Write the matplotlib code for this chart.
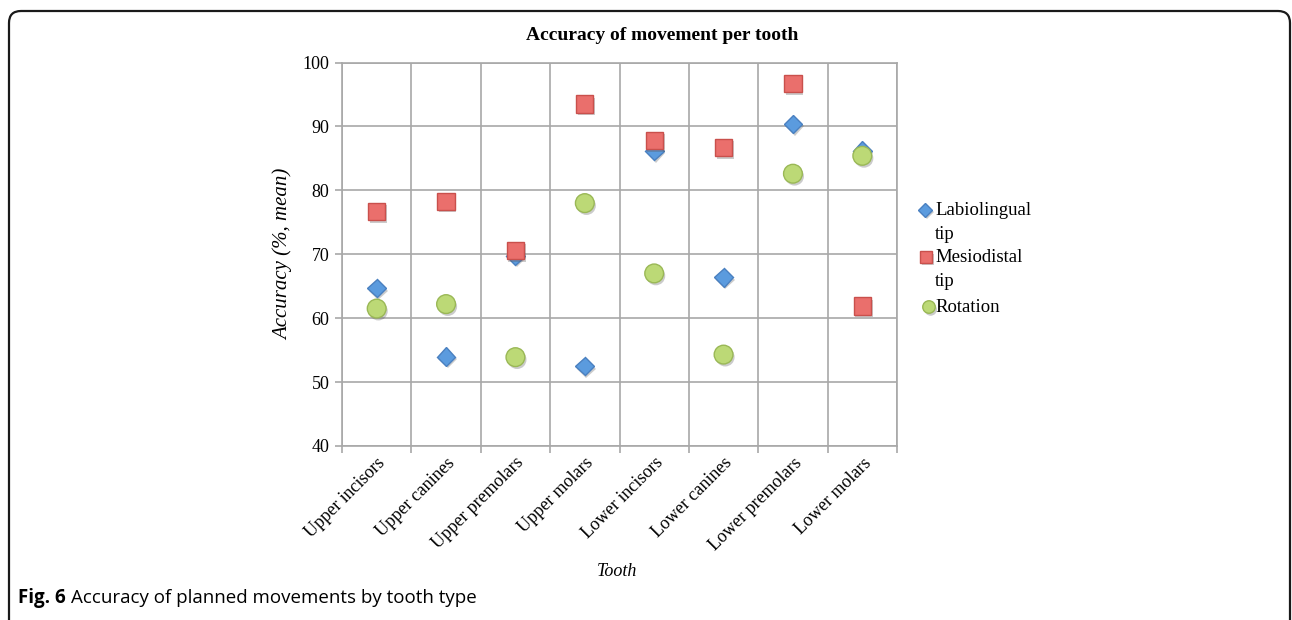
import matplotlib
matplotlib.use("Agg")
import matplotlib.pyplot as plt
import matplotlib.patheffects as pe
from matplotlib.lines import Line2D
from matplotlib.patches import FancyBboxPatch
import numpy as np

teeth = ["Upper incisors", "Upper canines", "Upper premolars", "Upper molars",
         "Lower incisors", "Lower canines", "Lower premolars", "Lower molars"]
labiolingual = [64.7, 54.0, 69.8, 52.5, 86.2, 66.4, 90.4, 86.2]
mesiodistal = [76.7, 78.3, 70.6, 93.5, 87.8, 86.7, 96.7, 61.9]
rotation = [61.5, 62.2, 53.9, 78.0, 67.0, 54.3, 82.6, 85.4]
y_ticks = [40, 50, 60, 70, 80, 90, 100]

SERIF = ["Liberation Serif", "DejaVu Serif"]
SANS = ["Open Sans", "DejaVu Sans"]
W, H = 1292, 620
DPI = 100

fig = plt.figure(figsize=(W / DPI, H / DPI), dpi=DPI)
fig.patch.set_facecolor("white")

# plot area in pixels
L, R, T, B = 342, 897, 62.5, 446
ax = fig.add_axes([L / W, 1 - B / H, (R - L) / W, (B - T) / H])

grid_c = "#a8a8a8"
x = np.arange(len(teeth))
ax.set_xlim(-0.5, len(teeth) - 0.5)
ax.set_ylim(min(y_ticks), max(y_ticks))
ax.set_yticks(y_ticks)
ax.set_xticks(x)
ax.set_xticks(np.arange(len(teeth) + 1) - 0.5, minor=True)
ax.set_xticklabels(teeth, rotation=45, ha="right", va="top",
                   rotation_mode="anchor", family=SERIF, fontsize=13)
ax.set_yticklabels([str(v) for v in y_ticks], family=SERIF, fontsize=13)
ax.tick_params(axis="x", which="major", length=0, pad=6)
ax.tick_params(axis="x", which="minor", length=5, width=1.2, color=grid_c)
ax.tick_params(axis="y", length=5, width=1.2, color=grid_c, pad=4)
ax.grid(True, axis="y", which="major", color=grid_c, lw=1.2)
ax.grid(True, axis="x", which="minor", color=grid_c, lw=1.2)
ax.grid(False, axis="x", which="major")
for s in ax.spines.values():
    s.set_color(grid_c)
    s.set_linewidth(1.2)
ax.set_axisbelow(True)

shadow = [pe.SimplePatchShadow(offset=(1.2, -1.8), alpha=0.3, shadow_rgbFace="#555555"), pe.Normal()]

styles = [
    (labiolingual, "D", 9.5, "#5b9bde", "#4a80c0"),
    (mesiodistal, "s", 12.5, "#ea6f6c", "#c9504c"),
    (rotation, "o", 13.5, "#bcd976", "#9ab856"),
]
for vals, mk, ms, fc, ec in styles:
    ax.plot(x, vals, ls="none", marker=mk, ms=ms, mfc=fc, mec=ec, mew=1.0,
            path_effects=shadow, zorder=3)

fig.text(283 / W, 1 - 254 / H, "Accuracy (%, mean)", family=SERIF, style="italic",
         fontsize=15, rotation=90, ha="center", va="center")
fig.text(617 / W, 1 - 572 / H, "Tooth", family=SERIF, style="italic",
         fontsize=13, ha="center", va="center")

fig.text(662 / W, 1 - 36 / H, "Accuracy of movement per tooth", family=SERIF,
         weight="bold", fontsize=14, ha="center", va="center")

# legend
leg_items = [
    ("D", 7, "#5b9bde", "#4a80c0", 925, 210, ["Labiolingual", "tip"]),
    ("s", 8.5, "#ea6f6c", "#c9504c", 926, 257, ["Mesiodistal", "tip"]),
    ("o", 9, "#bcd976", "#9ab856", 929, 307, ["Rotation"]),
]
for mk, ms, fc, ec, mx, my, lines in leg_items:
    fig.add_artist(Line2D([mx / W], [1 - my / H], transform=fig.transFigure,
                          ls="none", marker=mk, ms=ms, mfc=fc, mec=ec, mew=1.0,
                          path_effects=shadow))
    for i, line in enumerate(lines):
        fig.text(935 / W, 1 - (my + 5 + 24 * i) / H, line, family=SERIF,
                 fontsize=13.5, ha="left", va="baseline")

# caption
cap_y = 1 - 603 / H
t1 = fig.text(18 / W, cap_y, "Fig. 6", family=SANS,
              weight="bold", fontsize=13.5, ha="left", va="baseline")
renderer = fig.canvas.get_renderer()
bb = t1.get_window_extent(renderer)
fig.text((bb.x1 + 5) / W, cap_y, "Accuracy of planned movements by tooth type",
         family=SANS, fontsize=13.5, ha="left", va="baseline")

# frame around the figure panel
frame = FancyBboxPatch((9, -60), 1281, 620 - 11 + 60,
                       boxstyle="round,pad=0,rounding_size=12",
                       transform=None, fill=False, ec="#1a1a1a", lw=1.6)
fig.add_artist(frame)

fig.savefig("out.png", dpi=DPI, facecolor="white")
